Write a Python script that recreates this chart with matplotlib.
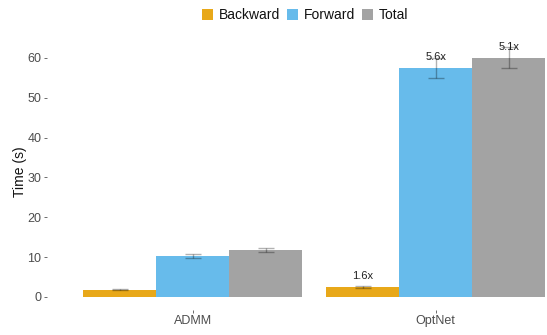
import matplotlib
matplotlib.use('Agg')
import matplotlib.pyplot as plt
import numpy as np

methods = ['ADMM', 'OptNet']
series = ['Backward', 'Forward', 'Total']

backward = [1.8, 2.5]
backward_err = [0.12, 0.15]
forward = [10.3, 57.6]
forward_err = [0.45, 2.5]
total = [11.8, 60.1]
total_err = [0.4, 2.7]

# speedup labels (only OptNet carries them)
speedup = {'Backward': ['', '1.6x'], 'Forward': ['', '5.6x'], 'Total': ['', '5.1x']}

colors = {'Backward': '#E69F00', 'Forward': '#56B4E9', 'Total': '#999999'}

values = {'Backward': backward, 'Forward': forward, 'Total': total}
errors = {'Backward': backward_err, 'Forward': forward_err, 'Total': total_err}

plt.rcParams['font.family'] = ['Liberation Sans', 'DejaVu Sans']

fig = plt.figure(figsize=(5.47, 3.35), dpi=100)
ax = fig.add_axes([47 / 547, 1 - 309.5 / 335, 1 - 47 / 547, (309.5 - 33.5) / 335])

x = np.arange(1, len(methods) + 1)
width = 0.3
for i, s in enumerate(series):
    pos = x + (i - 1) * width
    ax.bar(pos, values[s], width=width, color=colors[s], alpha=0.9,
           linewidth=0, label=s)
    ax.errorbar(pos, values[s], yerr=errors[s], fmt='none',
                ecolor=(0, 0, 0, 0.3), elinewidth=1, capsize=6, capthick=1)
    for p, v, t in zip(pos, values[s], speedup[s]):
        if t:
            ax.text(p, v + 2.7, t, ha='center', va='center',
                    fontsize=8, color='#222222')

ax.set_xlim(0.4, 0.4 + 500 / 243)
ax.set_ylim(-3.15, 66.15)
ax.set_xticks(x)
ax.set_xticklabels(methods)
ax.set_yticks([0, 10, 20, 30, 40, 50, 60])
ax.set_ylabel('Time (s)', fontsize=10, color='#111111', labelpad=0.5)

for sp in ax.spines.values():
    sp.set_visible(False)
ax.tick_params(axis='both', length=2, width=0.6, color='#555555',
               labelcolor='#4D4D4D', labelsize=9, pad=2)

leg = fig.legend(loc='upper center', bbox_to_anchor=(305 / 547, 1.012), ncol=3,
                 frameon=False, fontsize=10, handlelength=0.8, handleheight=0.8,
                 handletextpad=0.4, columnspacing=0.5)
for t in leg.get_texts():
    t.set_color('#111111')

fig.savefig('out.png', dpi=100, facecolor='white')
